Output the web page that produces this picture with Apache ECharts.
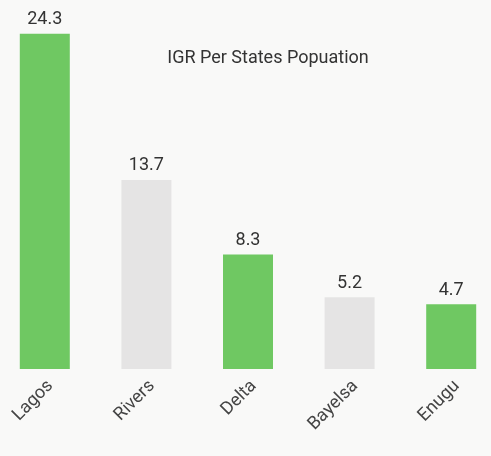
<!DOCTYPE html>
<html><head><meta charset="utf-8">
<script src="https://cdn.jsdelivr.net/npm/echarts@6/dist/echarts.min.js"></script>
<style>html,body{margin:0;padding:0;background:#f9f9f8;}#c{width:491px;height:456px;}</style>
</head><body><div id="c"></div>
<script>
const categories = ['Lagos', 'Rivers', 'Delta', 'Bayelsa', 'Enugu'];
const values = [24.3, 13.7, 8.3, 5.2, 4.7];
const barColors = ['#6fc862', '#e5e4e4', '#6fc862', '#e5e4e4', '#6fc862'];
const chart = echarts.init(document.getElementById('c'));
chart.setOption({
  backgroundColor: '#f9f9f8',
  title: { text: 'IGR Per States Popuation', left: 263, top: 44, textAlign: 'center',
    textStyle: { fontFamily: 'Roboto', fontWeight: 'normal', fontSize: 18, color: '#333' } },
  grid: { left: -6, width: 508, top: 24, height: 345, outerBoundsMode: 'none', containLabel: false },
  xAxis: { type: 'category', data: categories,
    axisLine: { show: false }, axisTick: { show: false },
    axisLabel: { rotate: 45, margin: 20, padding: [0, -8, 0, 0], fontFamily: 'Roboto', fontSize: 18, color: '#444' } },
  yAxis: { type: 'value', min: 0, max: 25, show: false, splitLine: { show: false } },
  series: [{ type: 'bar', barWidth: 50,
    data: values.map((v, i) => ({ value: v, itemStyle: { color: barColors[i] } })),
    label: { show: true, position: 'top', distance: 5, fontFamily: 'Roboto', fontSize: 18, color: '#333' } }]
});
</script></body></html>
